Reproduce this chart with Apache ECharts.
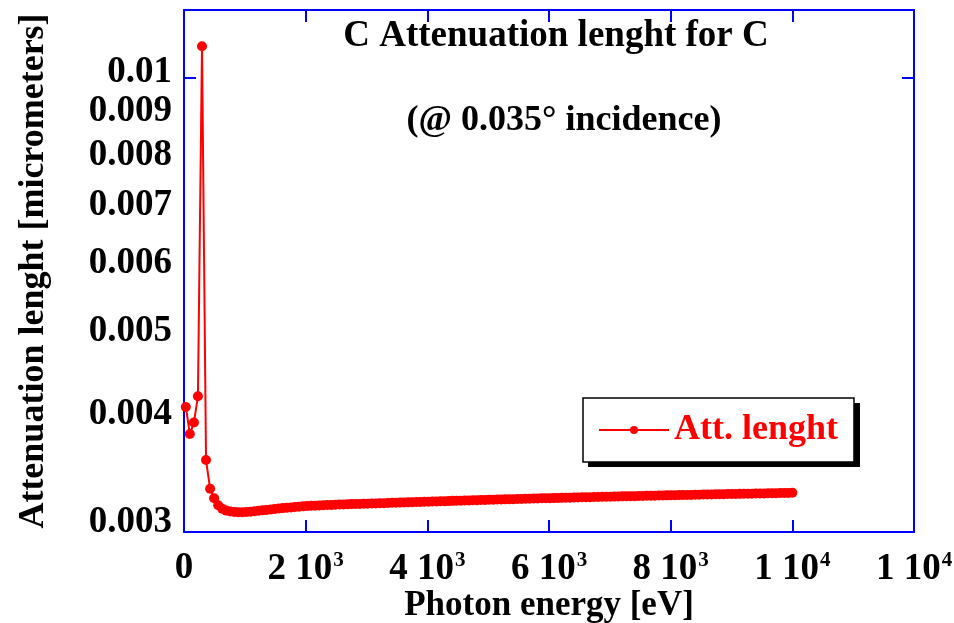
<!DOCTYPE html>
<html>
<head>
<meta charset="utf-8">
<title>C Attenuation lenght for C</title>
<script src="https://cdn.jsdelivr.net/npm/echarts@6/dist/echarts.min.js"></script>
<style>
  html, body { margin: 0; padding: 0; background: #ffffff; }
  #chart { width: 954px; height: 623px; }
</style>
</head>
<body>
<div id="chart"></div>
<script>
// Photon energy [eV]
const energies = [
  30, 96, 163, 229, 296, 362, 429, 495, 562, 628,
  695, 761, 828, 894, 961, 1027, 1093, 1160, 1226, 1293,
  1359, 1426, 1492, 1559, 1625, 1692, 1758, 1825, 1891, 1958,
  2024, 2090, 2157, 2223, 2290, 2356, 2423, 2489, 2556, 2622,
  2689, 2755, 2822, 2888, 2955, 3021, 3087, 3154, 3220, 3287,
  3353, 3420, 3486, 3553, 3619, 3686, 3752, 3819, 3885, 3952,
  4018, 4084, 4151, 4217, 4284, 4350, 4417, 4483, 4550, 4616,
  4683, 4749, 4816, 4882, 4949, 5015, 5081, 5148, 5214, 5281,
  5347, 5414, 5480, 5547, 5613, 5680, 5746, 5813, 5879, 5946,
  6012, 6078, 6145, 6211, 6278, 6344, 6411, 6477, 6544, 6610,
  6677, 6743, 6810, 6876, 6943, 7009, 7075, 7142, 7208, 7275,
  7341, 7408, 7474, 7541, 7607, 7674, 7740, 7807, 7873, 7940,
  8006, 8072, 8139, 8205, 8272, 8338, 8405, 8471, 8538, 8604,
  8671, 8737, 8804, 8870, 8937, 9003, 9069, 9136, 9202, 9269,
  9335, 9402, 9468, 9535, 9601, 9668, 9734, 9801, 9867, 9934,
  10000
];

// Attenuation lenght [micrometers] at 0.035 deg incidence
const attLength = [
  0.00415, 0.00386, 0.00398, 0.00427, 0.01089, 0.00360, 0.003335, 0.00325, 0.00319, 0.00316,
  0.003145, 0.003137, 0.003133, 0.003131, 0.003131, 0.003133, 0.003136, 0.003139, 0.003143, 0.003147,
  0.003151, 0.003155, 0.003159, 0.003163, 0.003166, 0.003169, 0.003172, 0.003175, 0.003178, 0.003181,
  0.003184, 0.003186, 0.003187, 0.003189, 0.003190, 0.003192, 0.003193, 0.003195, 0.003196, 0.003197,
  0.003199, 0.003200, 0.003201, 0.003202, 0.003203, 0.003204, 0.003205, 0.003206, 0.003207, 0.003208,
  0.003209, 0.003211, 0.003212, 0.003213, 0.003214, 0.003215, 0.003216, 0.003218, 0.003219, 0.003220,
  0.003221, 0.003222, 0.003223, 0.003224, 0.003225, 0.003226, 0.003228, 0.003229, 0.003230, 0.003231,
  0.003232, 0.003233, 0.003234, 0.003235, 0.003236, 0.003237, 0.003238, 0.003239, 0.003240, 0.003241,
  0.003242, 0.003243, 0.003244, 0.003245, 0.003246, 0.003247, 0.003248, 0.003249, 0.003250, 0.003250,
  0.003251, 0.003252, 0.003253, 0.003254, 0.003255, 0.003256, 0.003257, 0.003258, 0.003259, 0.003259,
  0.003260, 0.003261, 0.003262, 0.003263, 0.003264, 0.003264, 0.003265, 0.003266, 0.003267, 0.003268,
  0.003269, 0.003269, 0.003270, 0.003271, 0.003272, 0.003273, 0.003273, 0.003274, 0.003275, 0.003276,
  0.003277, 0.003277, 0.003278, 0.003279, 0.003280, 0.003280, 0.003281, 0.003282, 0.003283, 0.003283,
  0.003284, 0.003285, 0.003286, 0.003286, 0.003287, 0.003288, 0.003288, 0.003289, 0.003290, 0.003291,
  0.003291, 0.003292, 0.003293, 0.003293, 0.003294, 0.003295, 0.003295, 0.003296, 0.003297, 0.003297,
  0.003298
];

// Y tick labels (log axis); tick marks fall on the decade only (0.01)
const yTickValues = [0.003, 0.004, 0.005, 0.006, 0.007, 0.008, 0.009, 0.01];
const yTickLabels = ['0.003', '0.004', '0.005', '0.006', '0.007', '0.008', '0.009', '0.01'];

// X tick labels: mantissa and power of ten
const xTickValues = [0, 2000, 4000, 6000, 8000, 10000, 12000];
const xTickMantissa = ['0', '2 10', '4 10', '6 10', '8 10', '1 10', '1 10'];
const xTickPower = ['', '3', '3', '3', '3', '4', '4'];

const seriesName = 'Att. lenght';
const titleText = 'C Attenuation lenght for C';
const subtitleText = '(@ 0.035\u00B0 incidence)';
const xName = 'Photon energy [eV]';
const yName = 'Attenuation lenght [micrometers]';

const FONT = '"Liberation Serif", "Times New Roman", serif';
const AXIS_BLUE = '#0000ff';
const RED = '#ff0000';

// plot frame
const GRID_LEFT = 184, GRID_RIGHT = 40, GRID_TOP = 10, GRID_BOTTOM = 91;
const GRID_WIDTH = 954 - GRID_LEFT - GRID_RIGHT;

const chart = echarts.init(document.getElementById('chart'), null, { renderer: 'canvas' });

function yLabel(v) {
  const i = yTickValues.findIndex(t => Math.abs(t - v) < 1e-9);
  return i >= 0 ? yTickLabels[i] : '';
}
function xLabel(v) {
  const i = xTickValues.findIndex(t => Math.abs(t - v) < 1e-6);
  if (i < 0) return '';
  return xTickPower[i] ? '{m|' + xTickMantissa[i] + '}{p|' + xTickPower[i] + '}' : '{m|' + xTickMantissa[i] + '}';
}

const axisLineStyle = { show: true, lineStyle: { color: AXIS_BLUE, width: 2 } };
const tickStyle = { show: true, inside: true, length: 12, lineStyle: { color: AXIS_BLUE, width: 2 } };

// legend box geometry (its drop shadow is drawn behind it)
const LEGEND_LEFT = 583, LEGEND_TOP = 398, LEGEND_W = 272, LEGEND_H = 64;

const option = {
  animation: false,
  backgroundColor: '#ffffff',
  title: [
    {
      text: titleText,
      left: 551, top: 13, textAlign: 'center',
      textStyle: { fontFamily: FONT, fontWeight: 'bold', fontSize: 37, color: '#000' }
    },
    {
      text: subtitleText,
      left: 559, top: 98, textAlign: 'center',
      textStyle: { fontFamily: FONT, fontWeight: 'bold', fontSize: 36, color: '#000' }
    }
  ],
  graphic: [
    {
      type: 'rect', z: 3, silent: true,
      shape: { x: LEGEND_LEFT + 5, y: LEGEND_TOP + 5, width: LEGEND_W, height: LEGEND_H },
      style: { fill: '#000000' }
    }
  ],
  legend: {
    data: [seriesName],
    left: LEGEND_LEFT, top: LEGEND_TOP,
    width: LEGEND_W, height: LEGEND_H,
    itemWidth: 70, itemHeight: 10, itemGap: 10,
    padding: [14, 16, 14, 15],
    z: 4,
    backgroundColor: '#ffffff',
    borderColor: '#000000', borderWidth: 1.5, borderRadius: 0,
    textStyle: { fontFamily: FONT, fontWeight: 'bold', fontSize: 36, color: RED }
  },
  grid: {
    left: GRID_LEFT, right: GRID_RIGHT, top: GRID_TOP, bottom: GRID_BOTTOM,
    containLabel: false,
    outerBoundsMode: 'none'
  },
  xAxis: [
    {
      type: 'value', min: 0, max: 12000, interval: 2000,
      position: 'bottom',
      name: xName, nameLocation: 'middle', nameGap: 56, nameMoveOverlap: false,
      nameTextStyle: { fontFamily: FONT, fontWeight: 'bold', fontSize: 35, color: '#000' },
      axisLine: axisLineStyle,
      axisTick: tickStyle,
      splitLine: { show: false },
      axisLabel: {
        margin: 18,
        formatter: xLabel,
        rich: {
          m: { fontFamily: FONT, fontWeight: 'bold', fontSize: 37, color: '#000' },
          p: { fontFamily: FONT, fontWeight: 'bold', fontSize: 21, color: '#000', verticalAlign: 'top', padding: [0, 0, 18, 1] }
        }
      }
    },
    {
      type: 'value', min: 0, max: 12000, interval: 2000,
      position: 'top',
      axisLine: axisLineStyle,
      axisTick: tickStyle,
      axisLabel: { show: false },
      splitLine: { show: false }
    }
  ],
  yAxis: [
    {
      type: 'log', logBase: 10, min: 0.00297, max: 0.012,
      position: 'left',
      name: yName, nameLocation: 'middle', nameGap: 150, nameRotate: 90,
      nameTextStyle: { fontFamily: FONT, fontWeight: 'bold', fontSize: 36, color: '#000', verticalAlign: 'middle' },
      axisLine: axisLineStyle,
      axisTick: tickStyle,
      minorTick: { show: false },
      splitLine: { show: false },
      axisLabel: {
        customValues: yTickValues,
        margin: 12,
        formatter: yLabel,
        verticalAlign: 'bottom',
        lineHeight: 12,
        fontFamily: FONT, fontWeight: 'bold', fontSize: 37, color: '#000'
      }
    },
    {
      // right-hand frame edge: a left-type axis shifted across the plot,
      // so its outward ticks point back into the plot
      type: 'log', logBase: 10, min: 0.00297, max: 0.012,
      position: 'left', offset: -GRID_WIDTH,
      axisLine: axisLineStyle,
      axisTick: { show: true, inside: false, length: 12, lineStyle: { color: AXIS_BLUE, width: 2 } },
      minorTick: { show: false },
      axisLabel: { show: false },
      splitLine: { show: false }
    },
    {
      // left-hand decade tick: a right-type axis shifted onto the left edge,
      // its outward ticks pointing into the plot
      type: 'log', logBase: 10, min: 0.00297, max: 0.012,
      position: 'right', offset: -GRID_WIDTH,
      axisLine: { show: false },
      axisTick: { show: true, inside: false, length: 12, lineStyle: { color: AXIS_BLUE, width: 2 } },
      minorTick: { show: false },
      axisLabel: { show: false },
      splitLine: { show: false }
    }
  ],
  series: [
    {
      name: seriesName,
      type: 'line',
      xAxisIndex: 0, yAxisIndex: 0,
      data: energies.map((e, i) => [e, attLength[i]]),
      symbol: 'circle', symbolSize: 10,
      itemStyle: { color: RED },
      lineStyle: { color: RED, width: 2 },
      emphasis: { disabled: true }
    }
  ]
};

chart.setOption(option);
</script>
</body>
</html>
